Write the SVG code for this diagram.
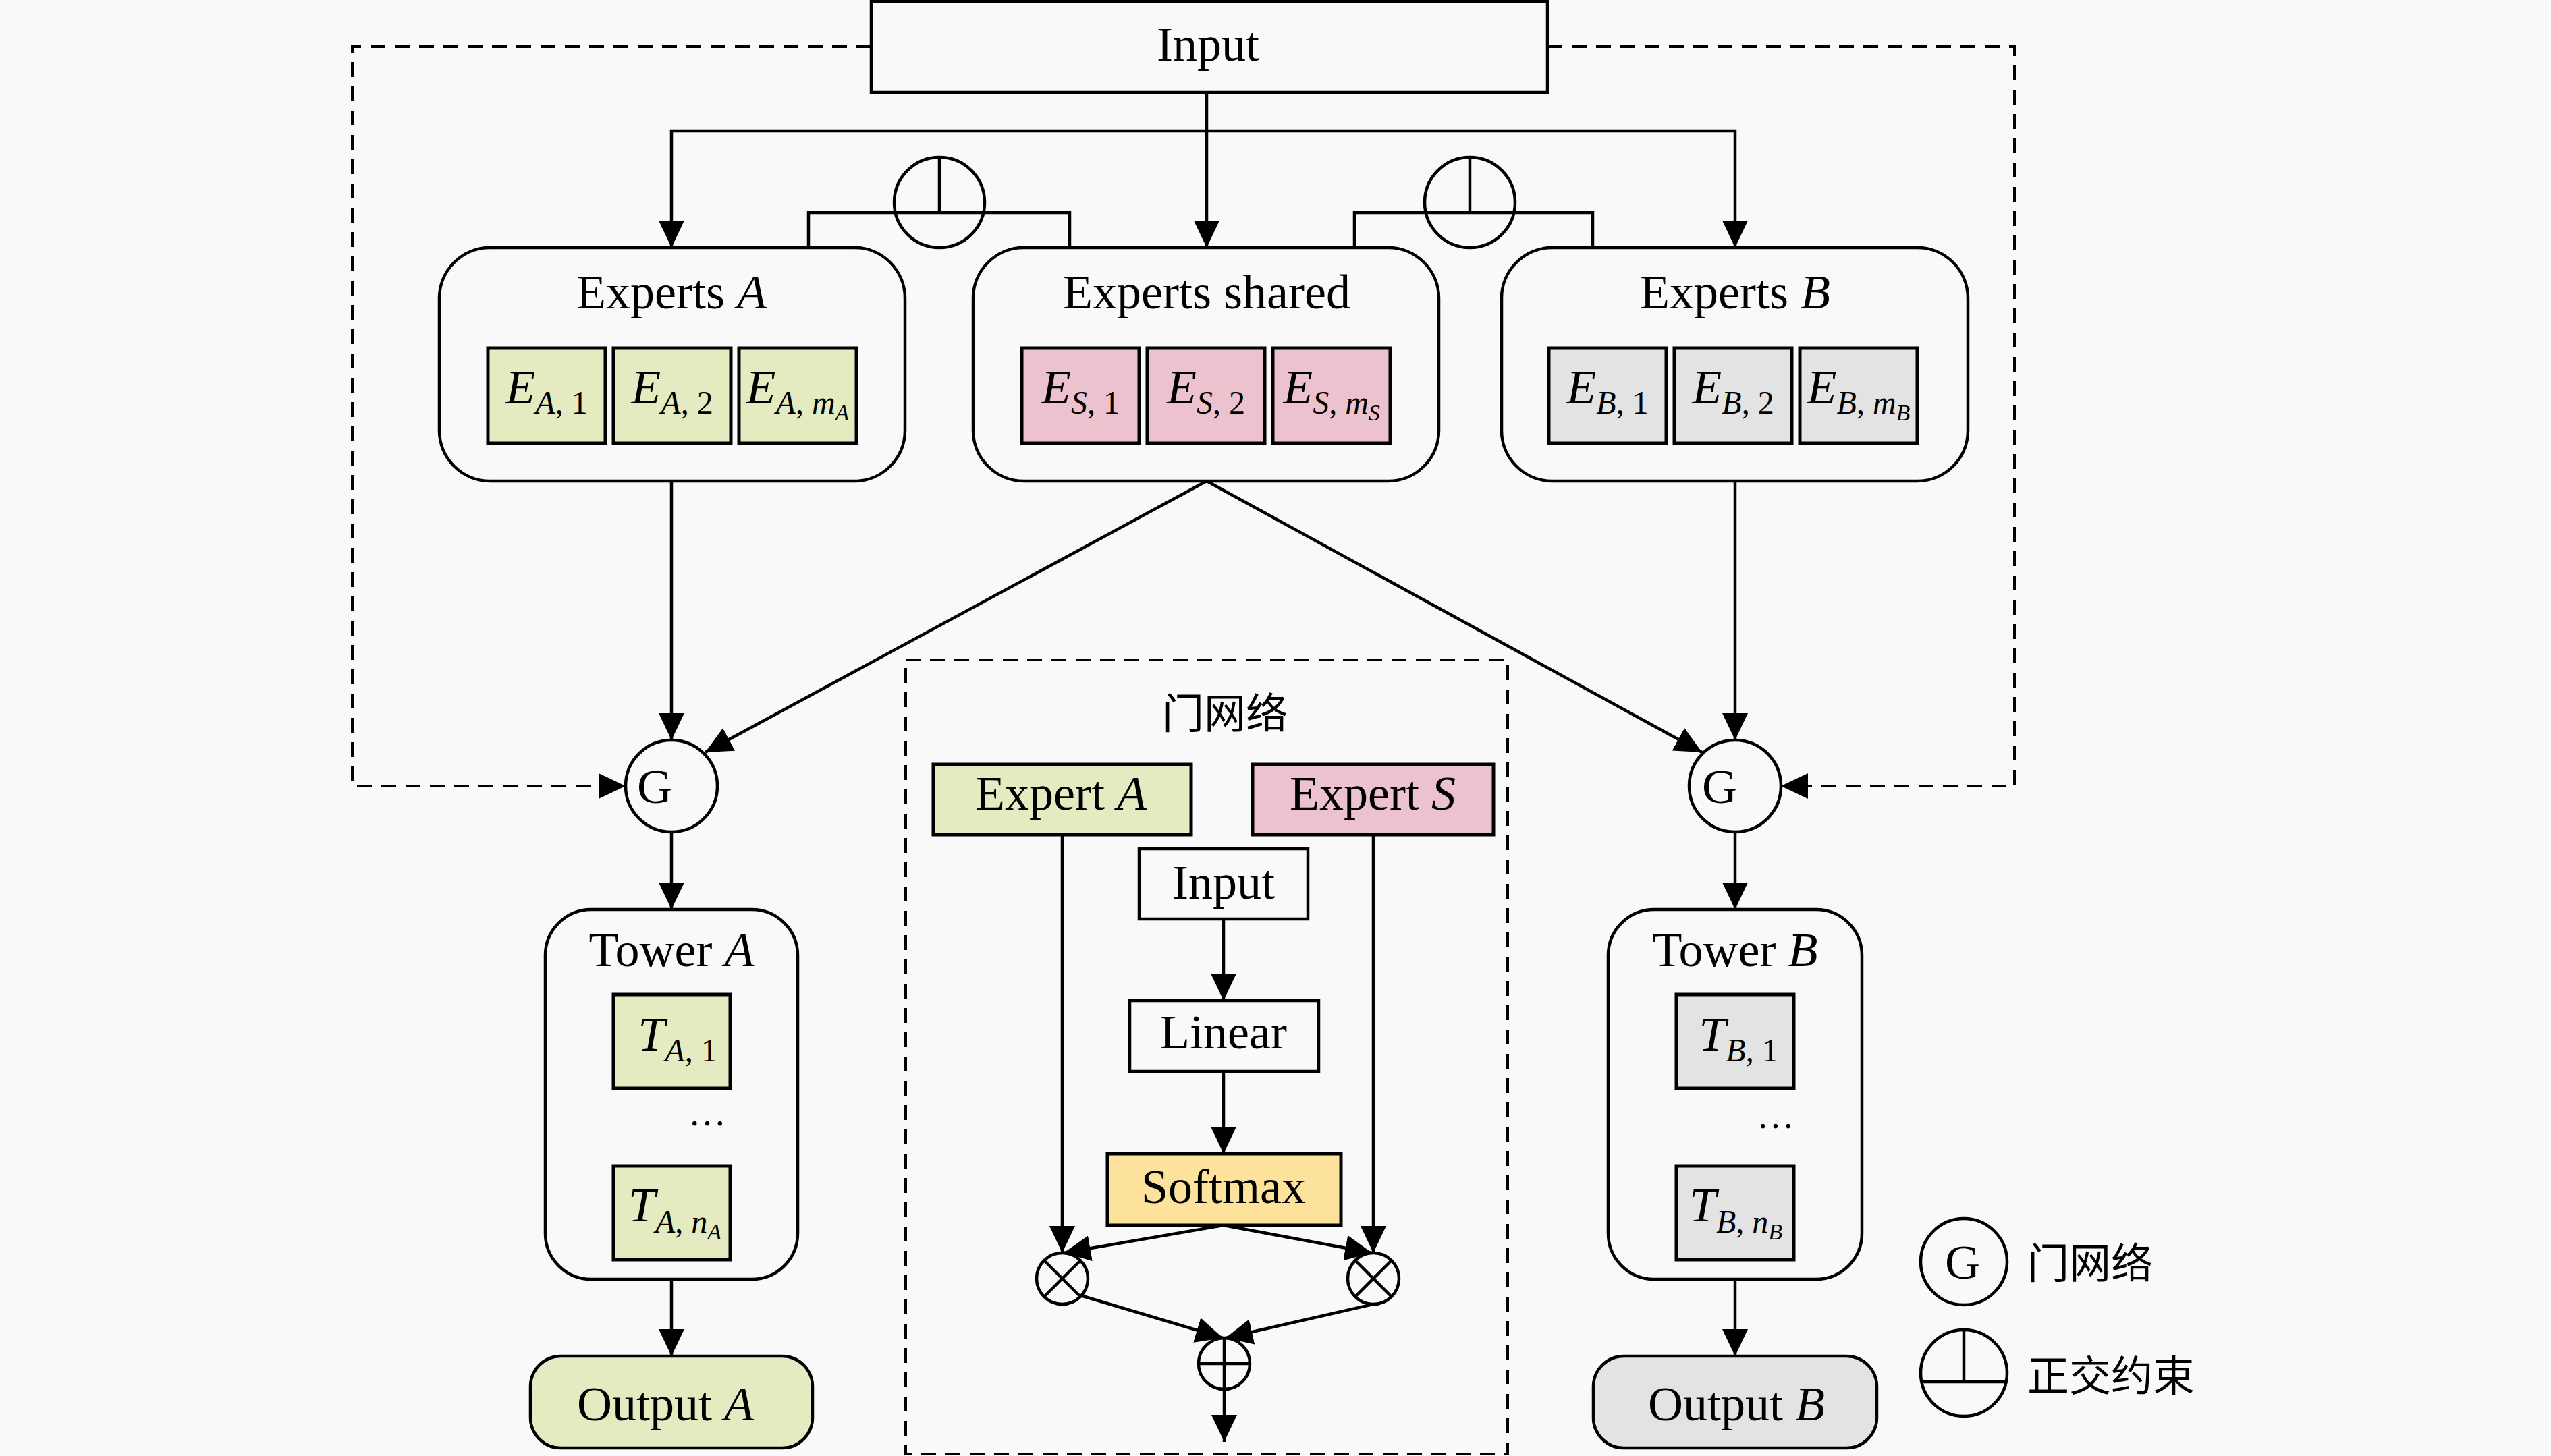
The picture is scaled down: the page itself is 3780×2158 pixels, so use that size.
<svg xmlns="http://www.w3.org/2000/svg" width="3780" height="2158" viewBox="0 0 3780 2158">
<defs>
<marker id="ah" markerUnits="userSpaceOnUse" markerWidth="42" markerHeight="40" refX="40" refY="19" orient="auto"><path d="M0,0 L40,19 L0,38 z" fill="#000"/></marker>
<style>
.ln{stroke:#000;stroke-width:4.5;fill:none}
.ar{stroke:#000;stroke-width:4.5;fill:none;marker-end:url(#ah)}
.da{stroke:#000;stroke-width:4;fill:none;stroke-dasharray:22 14}
.bx{stroke:#000;stroke-width:4.5;fill:#F9F9F9}
.sb{stroke:#000;stroke-width:5}
.gr{fill:#E4EBC1}
.pk{fill:#EBC2CE}
.gy{fill:#E3E3E3}
.yl{fill:#FDE29B}
.t{font-family:"Liberation Serif","DejaVu Serif",serif;font-size:72px;fill:#000;text-anchor:middle}
.i{font-style:italic}
.s{font-size:48px}
.ss{font-size:34px}
.cjk{font-family:"Noto Sans CJK SC","Noto Sans CJK JP",sans-serif;font-size:62px;fill:#000}
</style>
</defs>
<rect x="0" y="0" width="3780" height="2158" fill="#F9F9F9"/>

<g id="connectors">
<path class="ar" d="M1788,137 V367"/>
<path class="ar" d="M1788,194 H995 V367"/>
<path class="ar" d="M1788,194 H2571 V367"/>
<path class="da" d="M1291,69 H522 V1165 H927" marker-end="url(#ah)"/>
<path class="da" d="M2293,69 H2985 V1165 H2639" marker-end="url(#ah)"/>
<path class="ar" d="M995,713 V1097"/>
<path class="ar" d="M1788,713 L1045,1115"/>
<path class="ar" d="M1788,713 L2522,1115"/>
<path class="ar" d="M2571,713 V1097"/>
<path class="ar" d="M995,1233 V1348"/>
<path class="ar" d="M2571,1233 V1348"/>
<path class="ar" d="M995,1613 V1728"/>
<path class="ar" d="M2571,1613 V1728"/>
<path class="ar" d="M995,1896 V2010"/>
<path class="ar" d="M2571,1896 V2010"/>
<path class="ln" d="M1198,367 V315 H1585 V367"/>
<path class="ln" d="M2007,367 V315 H2360 V367"/>
<path class="ar" d="M1574,1237 V1857"/>
<path class="ar" d="M2035,1237 V1857"/>
<path class="ar" d="M1813,1362 V1483"/>
<path class="ar" d="M1813,1588 V1710"/>
<path class="ar" d="M1813,1816 L1576,1857"/>
<path class="ar" d="M1813,1816 L2033,1857"/>
<path class="ar" d="M1601,1920 L1812,1983"/>
<path class="ar" d="M2035,1933 L1816,1983"/>
<path class="ar" d="M1814,2058 V2137"/>
</g>

<g id="input">
<rect class="bx" x="1291" y="2" width="1002" height="135"/>
<text class="t" x="1790" y="90">Input</text>
</g>

<g id="ortho-left">
<circle cx="1392" cy="300" r="67" fill="none" stroke="#000" stroke-width="4.5"/>
<path class="ln" d="M1392,233 V315"/>
</g>
<g id="ortho-right">
<circle cx="2178" cy="300" r="67" fill="none" stroke="#000" stroke-width="4.5"/>
<path class="ln" d="M2178,233 V315"/>
</g>

<g id="experts-a">
<rect class="bx" x="651" y="367" width="690" height="346" rx="75" ry="75"/>
<text class="t" x="995" y="457">Experts <tspan class="i">A</tspan></text>
<rect class="sb gr" x="723" y="516" width="174" height="141"/>
<rect class="sb gr" x="909" y="516" width="174" height="141"/>
<rect class="sb gr" x="1095" y="516" width="174" height="141"/>
<text class="t" x="810" y="598"><tspan class="i">E</tspan><tspan class="s i" dy="15">A</tspan><tspan class="s">, 1</tspan></text>
<text class="t" x="996" y="598"><tspan class="i">E</tspan><tspan class="s i" dy="15">A</tspan><tspan class="s">, 2</tspan></text>
<text class="t" x="1182" y="598"><tspan class="i">E</tspan><tspan class="s i" dy="15">A</tspan><tspan class="s">, </tspan><tspan class="s i">m</tspan><tspan class="ss i" dy="10">A</tspan></text>
</g>

<g id="experts-shared">
<rect class="bx" x="1442" y="367" width="690" height="346" rx="75" ry="75"/>
<text class="t" x="1788" y="457">Experts shared</text>
<rect class="sb pk" x="1514" y="516" width="174" height="141"/>
<rect class="sb pk" x="1700" y="516" width="174" height="141"/>
<rect class="sb pk" x="1886" y="516" width="174" height="141"/>
<text class="t" x="1601" y="598"><tspan class="i">E</tspan><tspan class="s i" dy="15">S</tspan><tspan class="s">, 1</tspan></text>
<text class="t" x="1787" y="598"><tspan class="i">E</tspan><tspan class="s i" dy="15">S</tspan><tspan class="s">, 2</tspan></text>
<text class="t" x="1973" y="598"><tspan class="i">E</tspan><tspan class="s i" dy="15">S</tspan><tspan class="s">, </tspan><tspan class="s i">m</tspan><tspan class="ss i" dy="10">S</tspan></text>
</g>

<g id="experts-b">
<rect class="bx" x="2225" y="367" width="691" height="346" rx="75" ry="75"/>
<text class="t" x="2571" y="457">Experts <tspan class="i">B</tspan></text>
<rect class="sb gy" x="2295" y="516" width="174" height="141"/>
<rect class="sb gy" x="2481" y="516" width="174" height="141"/>
<rect class="sb gy" x="2667" y="516" width="174" height="141"/>
<text class="t" x="2382" y="598"><tspan class="i">E</tspan><tspan class="s i" dy="15">B</tspan><tspan class="s">, 1</tspan></text>
<text class="t" x="2568" y="598"><tspan class="i">E</tspan><tspan class="s i" dy="15">B</tspan><tspan class="s">, 2</tspan></text>
<text class="t" x="2754" y="598"><tspan class="i">E</tspan><tspan class="s i" dy="15">B</tspan><tspan class="s">, </tspan><tspan class="s i">m</tspan><tspan class="ss i" dy="10">B</tspan></text>
</g>

<g id="gate-a">
<circle class="bx" cx="995" cy="1165" r="68"/>
<text class="t" x="970" y="1190">G</text>
</g>
<g id="gate-b">
<circle class="bx" cx="2571" cy="1165" r="68"/>
<text class="t" x="2548" y="1190">G</text>
</g>

<g id="tower-a">
<rect class="bx" x="808" y="1348" width="374" height="548" rx="68" ry="68"/>
<text class="t" x="995" y="1432">Tower <tspan class="i">A</tspan></text>
<rect class="sb gr" x="909" y="1474" width="173" height="139"/>
<rect class="sb gr" x="909" y="1728" width="173" height="139"/>
<text class="t" x="1004" y="1557"><tspan class="i">T</tspan><tspan class="s i" dy="16">A</tspan><tspan class="s">, 1</tspan></text>
<text class="t" x="1000" y="1810"><tspan class="i">T</tspan><tspan class="s i" dy="17">A</tspan><tspan class="s">, </tspan><tspan class="s i">n</tspan><tspan class="ss i" dy="10">A</tspan></text>
<text class="t" x="1048" y="1668" style="font-size:56px">…</text>
</g>

<g id="tower-b">
<rect class="bx" x="2383" y="1348" width="376" height="548" rx="68" ry="68"/>
<text class="t" x="2571" y="1432">Tower <tspan class="i">B</tspan></text>
<rect class="sb gy" x="2484" y="1474" width="174" height="139"/>
<rect class="sb gy" x="2484" y="1728" width="174" height="139"/>
<text class="t" x="2576" y="1557"><tspan class="i">T</tspan><tspan class="s i" dy="16">B</tspan><tspan class="s">, 1</tspan></text>
<text class="t" x="2572" y="1810"><tspan class="i">T</tspan><tspan class="s i" dy="17">B</tspan><tspan class="s">, </tspan><tspan class="s i">n</tspan><tspan class="ss i" dy="10">B</tspan></text>
<text class="t" x="2631" y="1672" style="font-size:56px">…</text>
</g>

<g id="output-a">
<rect class="bx gr" x="786" y="2010" width="418" height="136" rx="45" ry="45"/>
<text class="t" x="986" y="2105">Output <tspan class="i">A</tspan></text>
</g>
<g id="output-b">
<rect class="bx gy" x="2361" y="2010" width="420" height="136" rx="45" ry="45"/>
<text class="t" x="2573" y="2105">Output <tspan class="i">B</tspan></text>
</g>

<g id="gate-network">
<rect x="1342" y="978" width="892" height="1177" fill="none" stroke="#000" stroke-width="4" stroke-dasharray="22 14"/>
<text class="cjk" x="1815" y="1080" text-anchor="middle">门网络</text>
</g>
<g id="expert-a-in">
<rect class="sb gr" x="1383" y="1133" width="382" height="104"/>
<text class="t" x="1572" y="1200">Expert <tspan class="i">A</tspan></text>
</g>
<g id="expert-s-in">
<rect class="sb pk" x="1856" y="1133" width="357" height="104"/>
<text class="t" x="2034" y="1200">Expert <tspan class="i">S</tspan></text>
</g>
<g id="gate-input">
<rect class="bx" x="1688" y="1258" width="250" height="104"/>
<text class="t" x="1813" y="1332">Input</text>
</g>
<g id="linear">
<rect class="bx" x="1674" y="1483" width="280" height="105"/>
<text class="t" x="1813" y="1554">Linear</text>
</g>
<g id="softmax">
<rect class="sb yl" x="1641" y="1710" width="346" height="106"/>
<text class="t" x="1813" y="1783">Softmax</text>
</g>
<g id="mult-a">
<circle class="bx" cx="1574" cy="1895" r="38"/>
<path class="ln" d="M1547,1868 L1601,1922 M1601,1868 L1547,1922"/>
</g>
<g id="mult-s">
<circle class="bx" cx="2035" cy="1895" r="38"/>
<path class="ln" d="M2008,1868 L2062,1922 M2062,1868 L2008,1922"/>
</g>
<g id="plus">
<circle class="bx" cx="1814" cy="2021" r="38"/>
<path class="ln" d="M1814,1983 V2059 M1776,2021 H1852"/>
</g>

<g id="legend-g">
<circle class="bx" cx="2910" cy="1870" r="64"/>
<text class="t" x="2908" y="1895">G</text>
<text class="cjk" x="3004" y="1895">门网络</text>
</g>
<g id="legend-ortho">
<circle class="bx" cx="2910" cy="2035" r="64"/>
<path class="ln" d="M2910,1971 V2048 M2848,2048 H2972"/>
<text class="cjk" x="3004" y="2062">正交约束</text>
</g>
</svg>
